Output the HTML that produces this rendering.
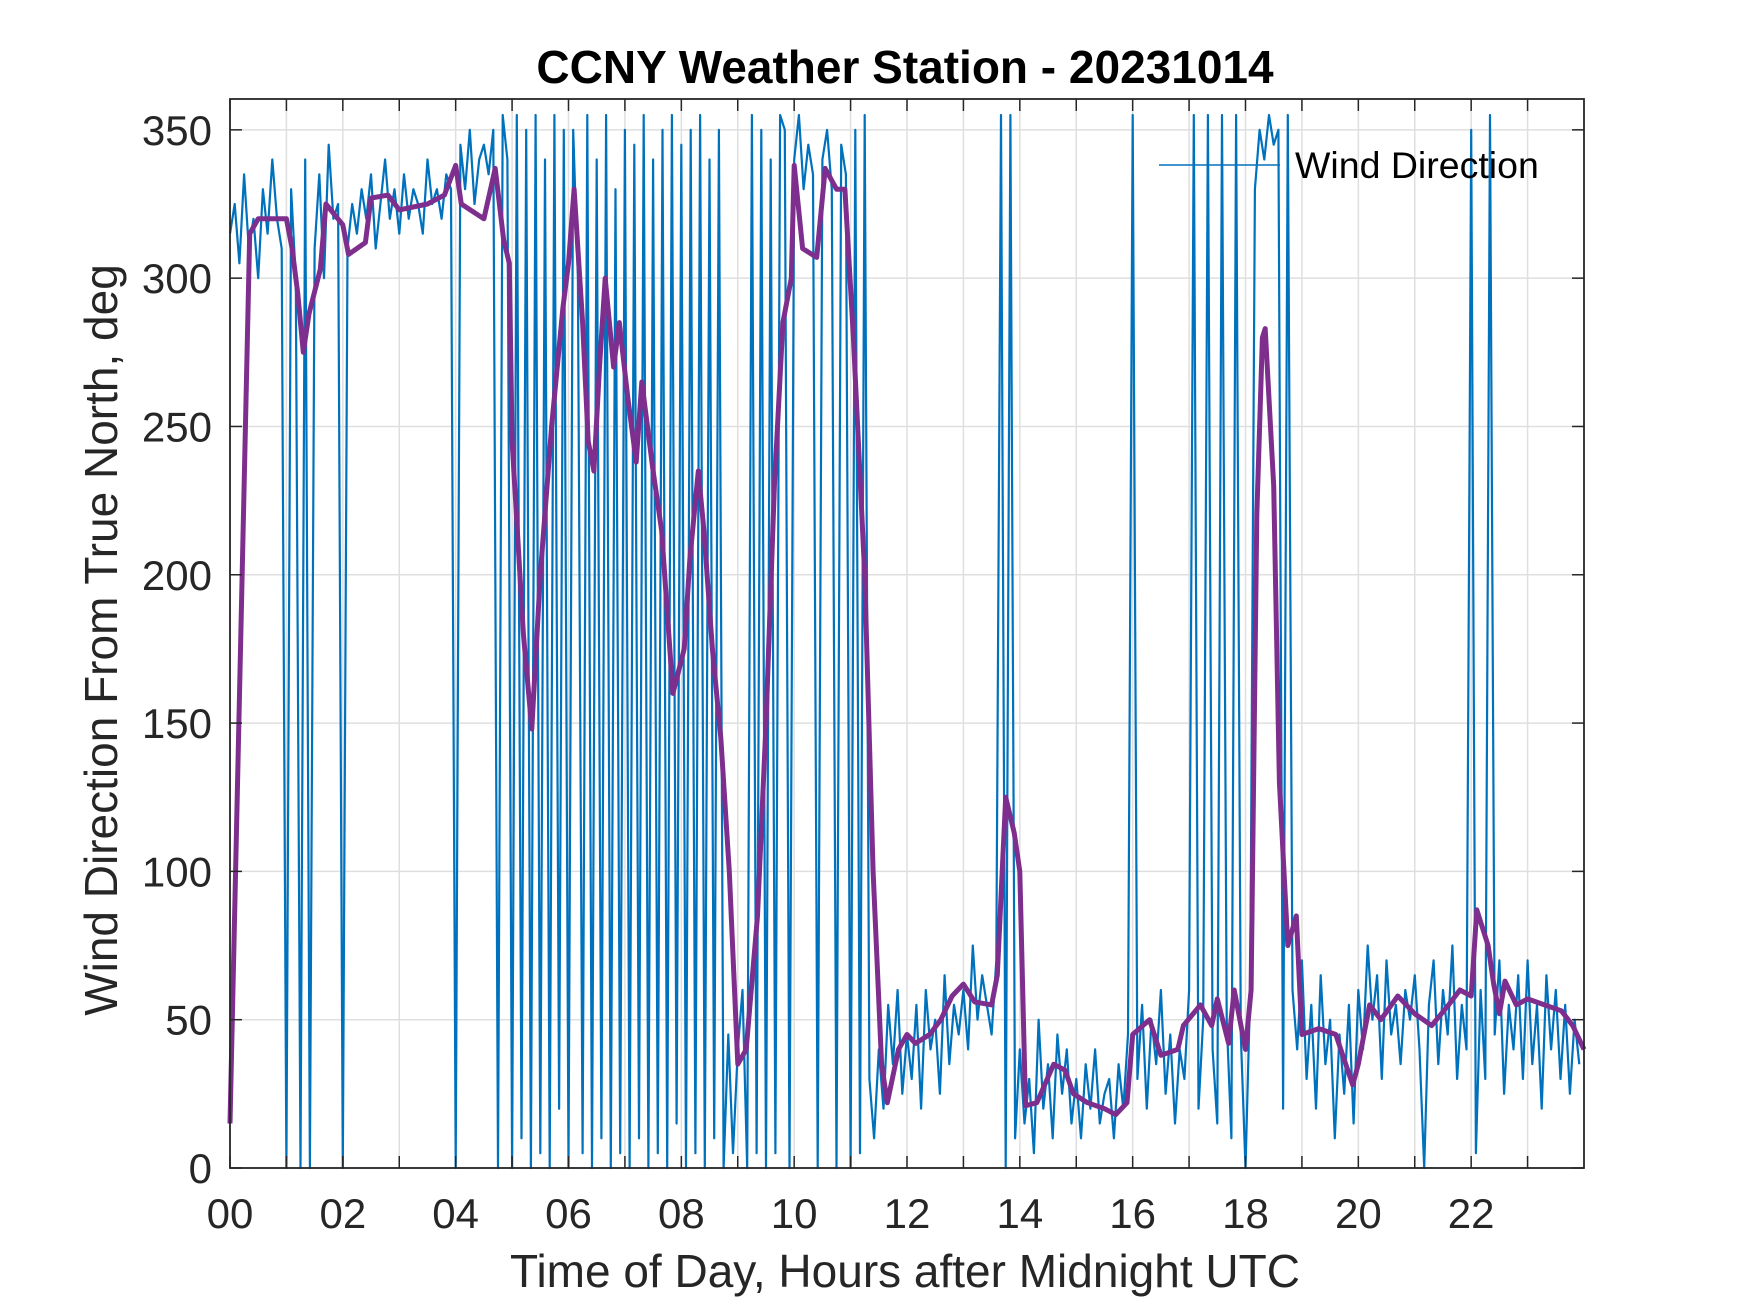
<!DOCTYPE html>
<html><head><meta charset="utf-8"><style>
html,body{margin:0;padding:0;background:#fff;}
svg{display:block;font-family:"Liberation Sans",Arial,sans-serif;}
</style></head><body>
<svg id="chart" width="1750" height="1313" viewBox="0 0 1750 1313">
<rect x="0" y="0" width="1750" height="1313" fill="#fff"/>
<g id="grid"></g>
<g id="series"></g>
<g id="axes"></g>
<text x="905" y="83" text-anchor="middle" font-size="46" font-weight="bold" fill="#000">CCNY Weather Station - 20231014</text>
<text x="905" y="1287" text-anchor="middle" font-size="46" fill="#262626">Time of Day, Hours after Midnight UTC</text>
<text transform="translate(117,640) rotate(-90)" text-anchor="middle" font-size="46" fill="#262626">Wind Direction From True North, deg</text>
<g>
<line x1="1159" y1="165" x2="1280" y2="165" stroke="#0072BD" stroke-width="1.6"/>
<text x="1295" y="178" font-size="37.5" fill="#000">Wind Direction</text>
</g>
</svg>
<script>
const blueValues = [
315,325,305,335,310,320,300,330,315,340,320,310,
0,330,300,0,340,0,310,335,300,345,320,325,
0,310,325,315,330,320,335,310,325,340,320,330,
315,335,320,330,325,315,340,325,330,320,335,330,
0,345,330,350,325,340,345,335,350,0,355,340,
0,355,10,350,0,355,5,340,0,355,20,350,
0,350,300,5,355,0,340,10,355,0,330,5,
350,0,345,10,355,0,340,5,350,0,355,15,
345,0,350,5,355,0,340,10,350,0,45,5,
40,60,0,355,5,350,0,340,5,355,350,0,
340,355,330,345,335,0,340,350,330,0,345,335,
0,350,5,355,30,10,40,20,55,35,60,25,
45,30,55,20,60,40,50,25,65,35,55,45,
60,40,75,50,65,55,45,70,355,0,355,10,
40,15,30,5,50,20,35,10,45,25,40,15,
30,10,35,20,40,15,25,30,10,35,20,45,
355,30,55,20,50,35,60,25,45,15,40,30,
60,355,20,50,355,40,15,355,50,10,355,45,
0,60,330,350,340,355,345,350,20,355,60,40,
70,30,55,20,65,35,50,10,45,25,55,15,
60,40,75,50,65,30,70,45,55,35,60,50,
65,40,0,55,70,35,60,45,75,30,55,40,
350,5,60,30,355,45,70,25,55,40,65,30,
70,35,55,20,65,40,60,30,55,25,50,35];
const purpleHours = [0,0.35,0.5,1.0,1.1,1.2,1.3,1.4,1.6,1.7,2.0,2.1,2.4,2.5,2.8,3.0,3.5,3.8,4.0,4.1,4.5,4.7,4.85,4.95,5.0,5.2,5.35,5.5,5.7,5.9,6.0,6.1,6.25,6.35,6.45,6.55,6.65,6.8,6.9,7.05,7.2,7.3,7.5,7.65,7.85,8.05,8.15,8.3,8.4,8.55,8.7,8.85,9.0,9.15,9.35,9.5,9.65,9.8,9.95,10.0,10.15,10.4,10.55,10.75,10.9,11.05,11.25,11.4,11.55,11.65,11.85,12.0,12.15,12.4,12.6,12.8,13.0,13.2,13.5,13.6,13.75,13.9,14.0,14.05,14.1,14.3,14.6,14.8,14.95,15.2,15.5,15.7,15.9,16.0,16.3,16.5,16.8,16.9,17.2,17.4,17.5,17.7,17.8,18.0,18.1,18.2,18.3,18.35,18.5,18.6,18.75,18.9,19.0,19.3,19.6,19.9,20.0,20.2,20.4,20.7,21.0,21.3,21.6,21.8,22.0,22.1,22.3,22.4,22.5,22.6,22.8,23.0,23.3,23.6,23.8,24.0];
const purpleValues = [15,315,320,320,310,295,275,288,303,325,318,308,312,327,328,323,325,328,338,325,320,337,313,305,245,180,148,200,250,290,305,330,285,245,235,270,300,270,285,260,238,265,235,215,160,175,205,235,215,175,145,100,35,40,85,150,230,285,300,338,310,307,337,330,330,280,200,100,35,22,40,45,42,45,50,58,62,56,55,65,125,113,100,60,21,22,35,33,25,22,20,18,22,45,50,38,40,48,55,48,57,42,60,40,60,220,280,283,230,130,75,85,45,47,45,28,35,55,50,58,52,48,55,60,58,87,75,62,52,63,55,57,55,53,48,40];
const xTicks = [0,1,2,3,4,5,6,7,8,9,10,11,12,13,14,15,16,17,18,19,20,21,22,23];
const xTickLabels = ["00","02","04","06","08","10","12","14","16","18","20","22"];
const yTicks = [0,50,100,150,200,250,300,350];

const NS="http://www.w3.org/2000/svg";
const L=230,R=1584,T=99,B=1168,XMAX=24,YMAX=360.4;
const xs=h=>L+(R-L)*h/XMAX;
const ys=v=>B-(B-T)*v/YMAX;
function mk(tag,attrs,parent){const e=document.createElementNS(NS,tag);for(const k in attrs)e.setAttribute(k,attrs[k]);parent.appendChild(e);return e;}
const grid=document.getElementById('grid'),series=document.getElementById('series'),axes=document.getElementById('axes');

xTicks.forEach(h=>{
  const g=mk('line',{x1:xs(h),x2:xs(h),y1:T,y2:B,stroke:'#dfdfdf','stroke-width':1.5},grid);
  
  
  const t1=mk('line',{x1:xs(h),x2:xs(h),y1:B,y2:B-12,stroke:'#262626','stroke-width':1.5},axes);
  
  
  const t2=mk('line',{x1:xs(h),x2:xs(h),y1:T,y2:T+12,stroke:'#262626','stroke-width':1.5},axes);
  
  
});
xTickLabels.forEach((lab,i)=>{
  const t=mk('text',{x:xs(i*2),y:1228,'text-anchor':'middle','font-size':42,fill:'#262626'},axes);
  t.textContent=lab;
  
  
});
yTicks.forEach(v=>{
  const g=mk('line',{x1:L,x2:R,y1:ys(v),y2:ys(v),stroke:'#dfdfdf','stroke-width':1.5},grid);
  
  
  const t1=mk('line',{x1:L,x2:L+12,y1:ys(v),y2:ys(v),stroke:'#262626','stroke-width':1.5},axes);
  
  
  const t2=mk('line',{x1:R,x2:R-12,y1:ys(v),y2:ys(v),stroke:'#262626','stroke-width':1.5},axes);
  
  
  const t=mk('text',{x:212,y:ys(v)+15,'text-anchor':'end','font-size':42,fill:'#262626'},axes);
  t.textContent=String(v);
  
  
});
const frame=mk('rect',{x:L,y:T,width:R-L,height:B-T,fill:'none',stroke:'#262626','stroke-width':1.8},axes);



const step=XMAX/blueValues.length;
const bp=blueValues.map((v,i)=>xs(i*step).toFixed(1)+','+ys(v).toFixed(1)).join(' ');
const blue=mk('polyline',{points:bp,fill:'none',stroke:'#0072BD','stroke-width':2.2,'stroke-linejoin':'round'},series);



const pp=purpleValues.map((v,i)=>xs(purpleHours[i]).toFixed(1)+','+ys(v).toFixed(1)).join(' ');
const purple=mk('polyline',{points:pp,fill:'none',stroke:'#7E2F8E','stroke-width':5,'stroke-linejoin':'round'},series);


</script>
</body></html>
